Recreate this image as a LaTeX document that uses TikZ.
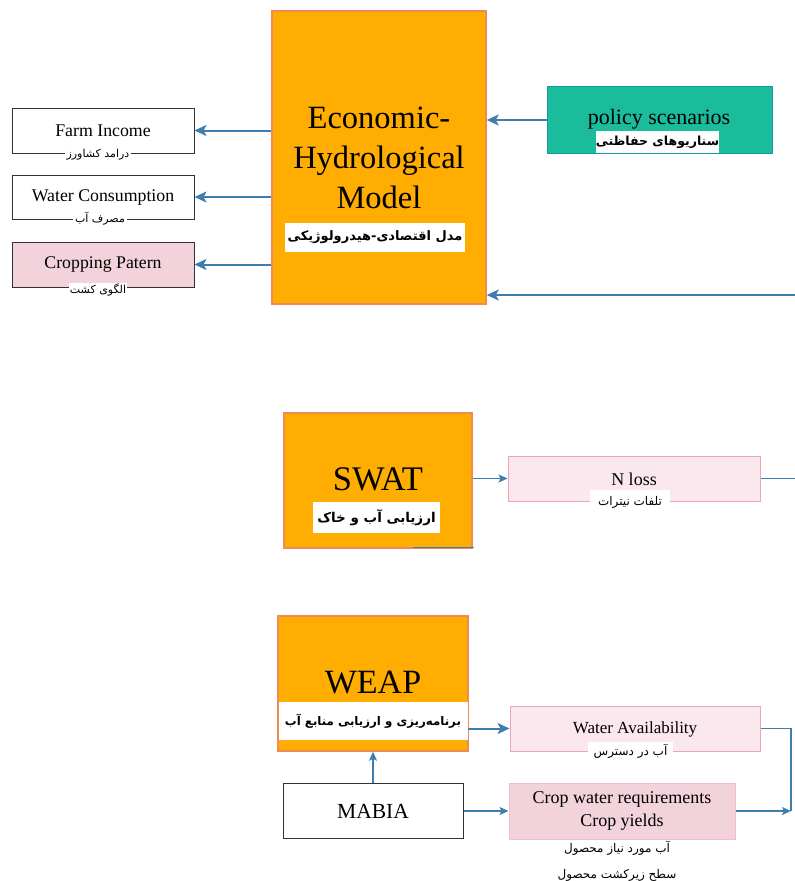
\documentclass[tikz,border=0pt]{standalone}
\usepackage{fontspec}
\setmainfont{Liberation Serif}
\newfontfamily\arabicfont[Script=Arabic]{DejaVu Sans}
\TeXXeTstate=1
\usetikzlibrary{arrows.meta}
\definecolor{orfill}{HTML}{FFAD00}
\definecolor{ordraw}{HTML}{F08A55}
\definecolor{teal}{HTML}{1ABC9C}
\definecolor{pinkl}{HTML}{FBE8EE}
\definecolor{pinkd}{HTML}{EBA5B9}
\definecolor{pinkm}{HTML}{F2D3DB}
\definecolor{arrblue}{HTML}{3D7EB0}
\definecolor{greyb}{HTML}{333333}
\tikzset{
  x=1pt,y=-1pt,
  orbox/.style={draw=ordraw,line width=1.5pt,fill=orfill,inner sep=0pt},
  outbox/.style={draw=greyb,line width=1pt,inner sep=0pt},
  pinkbox/.style={draw=pinkd,line width=1pt,fill=pinkl,inner sep=0pt},
  labl/.style={fill=white,inner sep=2pt,font=\arabicfont\fontsize{11}{13}\selectfont},
  blabl/.style={fill=white,inner sep=0pt,font=\arabicfont\bfseries\fontsize{13}{16}\selectfont},
  arr/.style={draw=arrblue,line width=2pt,-{Stealth[length=12pt,width=11pt,inset=3pt]}},
  tarr/.style={draw=arrblue,line width=1.2pt,-{Stealth[length=9pt,width=8pt,inset=2pt]}},
  tline/.style={draw=arrblue,line width=1.6pt},
}
\begin{document}
\begin{tikzpicture}
\useasboundingbox (0,0) rectangle (795,881);
% Economic-Hydrological
\node[orbox,minimum width=214pt,minimum height=293pt] (econ) at (379,157.5) {};
\node[align=center,font=\fontsize{32.5}{40}\selectfont] (econt) at (379,158) {Economic-\\Hydrological\\Model};
\node[blabl,minimum width=180pt,minimum height=29pt] (econl) at (375,237) {\beginR مدل اقتصادی-هیدرولوژیکی\endR};
% outputs
\node[outbox,fill=white,minimum width=182pt,minimum height=45pt] (farm) at (103,130.5) {};
\node[font=\fontsize{17.8}{20}\selectfont] (farmt) at (103,131) {Farm Income};
\node[labl] (farml) at (98,155) {\beginR درامد کشاورز\endR};
\node[outbox,fill=white,minimum width=182pt,minimum height=44pt] (wc) at (103,197) {};
\node[font=\fontsize{17.8}{20}\selectfont] (wct) at (103,197) {Water Consumption};
\node[labl] (wcl) at (100,219) {\beginR مصرف آب\endR};
\node[outbox,fill=pinkm,minimum width=182pt,minimum height=45pt] (crp) at (103,264.5) {};
\node[font=\fontsize{17.8}{20}\selectfont] (crpt) at (103,265) {Cropping Patern};
\node[labl,inner sep=1pt,minimum height=15pt] (crpl) at (98,290) {\beginR الگوی کشت\endR};
\draw[arr] (econ.west |- farm.east) -- (farm.east);
\draw[arr] (econ.west |- wc.east) -- (wc.east);
\draw[arr] (econ.west |- crp.east) -- (crp.east);
% policy
\node[draw=teal!80!blue,line width=0.8pt,fill=teal,minimum width=225pt,minimum height=67pt,inner sep=0pt] (pol) at (659.5,119.5) {};
\node[font=\fontsize{22}{26}\selectfont] (polt) at (659,119) {policy scenarios};
\node[blabl,font=\arabicfont\bfseries\fontsize{12.5}{15}\selectfont,minimum width=121pt,minimum height=22pt] (poll) at (657.5,142) {\beginR سناریوهای حفاظتی\endR};
\draw[arr] (pol.west |- 0,120) -- (econ.east |- 0,120);
\coordinate (rin) at (795,295);
\draw[arr] (rin) -- (rin -| econ.east);
% SWAT
\node[orbox,minimum width=188pt,minimum height=135pt] (swat) at (378,480.5) {};
\node[font=\fontsize{34.5}{38}\selectfont] (swatt) at (378,479) {SWAT};
\node[blabl,font=\arabicfont\bfseries\fontsize{13.5}{17}\selectfont,minimum width=127pt,minimum height=31pt] (swatl) at (376.5,517.5) {\beginR ارزیابی آب و خاک\endR};
\coordinate (sb1) at (413,547.5);
\coordinate (sb2) at (474,547.5);
\draw[draw=arrblue,line width=1pt] (sb1) -- (sb2);
\node[pinkbox,minimum width=252pt,minimum height=45pt] (nl) at (634,478.5) {};
\node[font=\fontsize{18}{20}\selectfont] (nlt) at (634,479) {N loss};
\node[labl,font=\arabicfont\fontsize{12}{14}\selectfont,minimum width=80pt,minimum height=25pt] (nll) at (630,502.5) {\beginR تلفات نیترات\endR};
\draw[tarr] (swat.east |- nl.west) -- (nl.west);
\coordinate (nout) at (795,478.5);
\draw[tline,line width=1.2pt] (nl.east) -- (nout);
% WEAP
\node[orbox,minimum width=190pt,minimum height=135pt] (weap) at (373,683.5) {};
\node[font=\fontsize{34}{38}\selectfont] (weapt) at (373,683) {WEAP};
\node[blabl,font=\arabicfont\bfseries\fontsize{11.8}{15}\selectfont,minimum width=189pt,minimum height=38pt] (weapl) at (373,721) {\beginR برنامه‌ریزی و ارزیابی منابع آب\endR};
\node[pinkbox,minimum width=250pt,minimum height=45pt] (wa) at (635,728.5) {};
\node[font=\fontsize{17}{20}\selectfont] (wat) at (635,729) {Water Availability};
\node[labl,font=\arabicfont\fontsize{12}{14}\selectfont,minimum width=85pt,minimum height=18pt,inner sep=0pt] (wal) at (630.5,751) {\beginR آب در دسترس\endR};
% MABIA
\node[outbox,fill=white,minimum width=180pt,minimum height=55pt] (mab) at (373,810.5) {};
\node[font=\fontsize{21.5}{26}\selectfont] (mabt) at (373,811) {MABIA};
\node[pinkbox,draw=pinkm!90!red,fill=pinkm,minimum width=226pt,minimum height=56pt] (cwr) at (622,811) {};
\node[align=center,font=\fontsize{18}{23}\selectfont] (cwrt) at (622,811) {Crop water requirements\\Crop yields};
\node[labl,font=\arabicfont\fontsize{12}{14}\selectfont,align=center,inner sep=0pt,minimum width=131pt] (cwrl) at (617,861) {\beginR آب مورد نیاز محصول\endR\\[12pt]\beginR سطح زیرکشت محصول\endR};
\draw[tarr] (mab.north) -- (weap.south -| mab.north);
\draw[tarr] (mab.east |- cwr.west) -- (cwr.west);
\coordinate (jn) at (791,811);
\draw[tline] (wa.east) -- (wa.east -| jn) -- (jn);
\draw[tarr,line width=1.6pt] (cwr.east) -- (jn);
\draw[arr,line width=2pt] (weapl.east |- wa.west) -- (wa.west);
\end{tikzpicture}
\end{document}
